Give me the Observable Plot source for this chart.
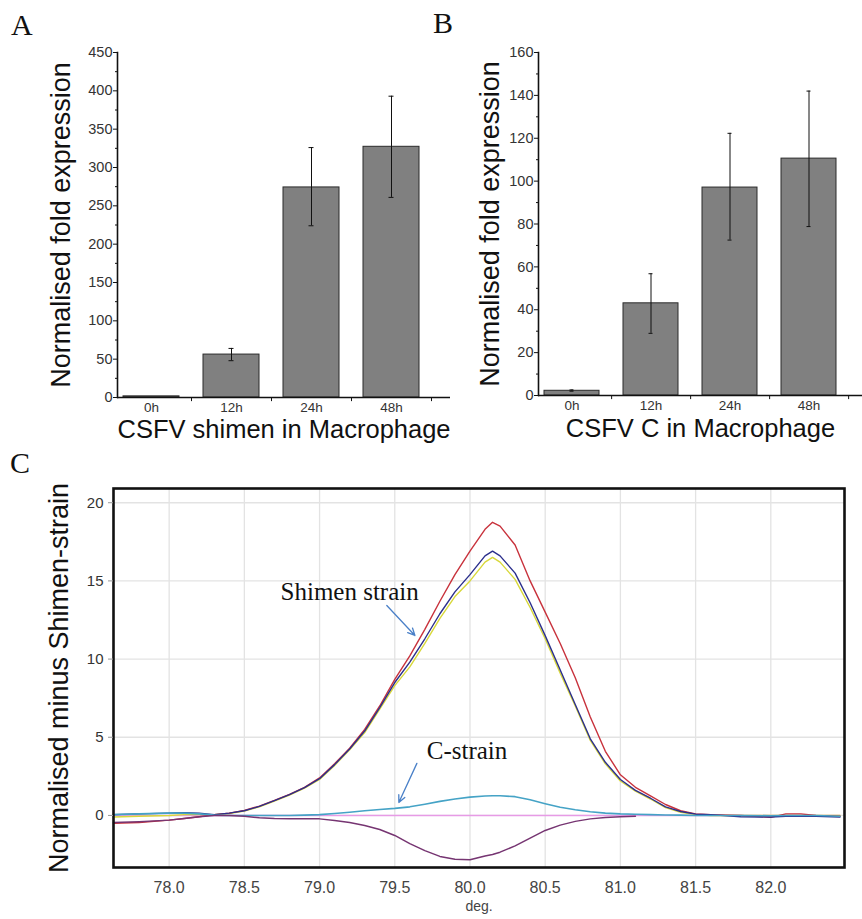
<!DOCTYPE html>
<html>
<head>
<meta charset="utf-8">
<script src="https://cdn.jsdelivr.net/npm/d3@7"></script>
<script src="https://cdn.jsdelivr.net/npm/@observablehq/plot@0.6"></script>
<style>
  html, body { margin: 0; padding: 0; background: #fff; }
  body { width: 862px; height: 919px; position: relative; overflow: hidden; font-family: "Liberation Sans", Arial, sans-serif; }
  .panel { position: absolute; }
  .panel svg { overflow: visible; }
  .letter { position: absolute; font-family: "Liberation Serif", "Times New Roman", serif; font-size: 30px; line-height: 1; color: #111; }
</style>
</head>
<body>
<div class="letter" style="left:11px;top:10px">A</div>
<div class="letter" style="left:433px;top:8px">B</div>
<div class="letter" style="left:10px;top:448px">C</div>
<div id="pa" class="panel" style="left:0px;top:0px;width:450px"></div>
<div id="pb" class="panel" style="left:450px;top:0px;width:412px"></div>
<div id="pc" class="panel" style="left:0px;top:470px;width:862px"></div>
<script>
// ---------- Panel A data ----------
const timesA = ["0h", "12h", "24h", "48h"];
const meanA = [1.5, 56, 274, 327];
const lowA = [null, 48, 224, 261];
const highA = [null, 64, 326, 393];
const yTicksA = [0, 50, 100, 150, 200, 250, 300, 350, 400, 450];
const yMinorA = [25, 75, 125, 175, 225, 275, 325, 375, 425];
const xLabelA = "CSFV shimen in Macrophage";

// ---------- Panel B data ----------
const timesB = ["0h", "12h", "24h", "48h"];
const meanB = [2.2, 43, 97, 110.5];
const lowB = [2.0, 29, 72.5, 78.8];
const highB = [2.6, 56.8, 122.3, 142];
const yTicksB = [0, 20, 40, 60, 80, 100, 120, 140, 160];
const yMinorB = [10, 30, 50, 70, 90, 110, 130, 150];
const xLabelB = "CSFV C in Macrophage";

const yLabelAB = "Normalised fold expression";

// ---------- Panel C data ----------
const degC = [77.63, 77.8, 78.0, 78.1, 78.2, 78.3, 78.4, 78.5, 78.6, 78.7, 78.8, 78.9,
  79.0, 79.1, 79.2, 79.3, 79.4, 79.5, 79.6, 79.7, 79.8, 79.9, 80.0, 80.1, 80.15, 80.2,
  80.3, 80.4, 80.5, 80.6, 80.7, 80.8, 80.9, 81.0, 81.1, 81.2, 81.3, 81.4, 81.5, 81.6,
  81.8, 82.0, 82.1, 82.2, 82.3, 82.46];
const shimenRed = [-0.5, -0.45, -0.3, -0.2, -0.08, 0.05, 0.15, 0.32, 0.6, 0.96, 1.35, 1.8,
  2.4, 3.3, 4.3, 5.5, 7.0, 8.7, 10.2, 11.9, 13.7, 15.4, 16.9, 18.3, 18.75, 18.5,
  17.3, 15.0, 13.0, 11.0, 8.8, 6.3, 4.1, 2.6, 1.8, 1.25, 0.7, 0.3, 0.1, 0.05,
  0.0, -0.12, 0.1, 0.1, 0.0, -0.05];
const shimenNavy = [0.05, 0.1, 0.15, 0.18, 0.15, 0.05, 0.15, 0.3, 0.58, 0.95, 1.33, 1.78,
  2.35, 3.25, 4.25, 5.4, 6.9, 8.5, 9.8, 11.3, 12.9, 14.3, 15.4, 16.6, 16.9, 16.6,
  15.5, 13.6, 11.5, 9.3, 7.1, 4.9, 3.4, 2.3, 1.6, 1.1, 0.55, 0.25, 0.08, 0.05,
  -0.08, -0.1, -0.05, -0.05, -0.05, -0.1];
const shimenYellow = [-0.1, -0.05, 0.0, 0.05, 0.05, 0.05, 0.12, 0.28, 0.55, 0.92, 1.3, 1.75,
  2.3, 3.2, 4.2, 5.3, 6.8, 8.3, 9.5, 11.0, 12.6, 14.0, 15.0, 16.2, 16.5, 16.2,
  15.1, 13.3, 11.3, 9.1, 7.0, 4.8, 3.3, 2.2, 1.55, 1.05, 0.5, 0.2, 0.05, 0.0,
  0.0, 0.0, 0.0, 0.0, 0.0, 0.0];
const cStrainCyan = [0.05, 0.1, 0.15, 0.15, 0.1, 0.02, 0.0, 0.0, 0.0, 0.0, 0.0, 0.02,
  0.05, 0.12, 0.2, 0.3, 0.38, 0.45, 0.55, 0.72, 0.9, 1.05, 1.17, 1.24, 1.26, 1.26,
  1.2, 1.0, 0.75, 0.52, 0.36, 0.24, 0.15, 0.1, 0.08, 0.05, 0.03, 0.02, 0.0, 0.0,
  0.0, -0.02, 0.0, 0.0, 0.0, -0.05];
const cStrainPurple = [-0.45, -0.4, -0.3, -0.2, -0.08, 0.0, 0.0, -0.05, -0.15, -0.2, -0.21, -0.21,
  -0.22, -0.32, -0.45, -0.65, -0.9, -1.28, -1.8, -2.25, -2.62, -2.8, -2.84, -2.6, -2.5, -2.35,
  -1.95, -1.45, -0.96, -0.62, -0.38, -0.22, -0.13, -0.08, -0.05, null, null, null, null, null,
  null, null, null, null, null, null];
const referencePink = degC.map(() => 0); // the Shimen-strain reference itself (flat)
const xTicksC = [78.0, 78.5, 79.0, 79.5, 80.0, 80.5, 81.0, 81.5, 82.0];
const yTicksC = [0, 5, 10, 15, 20];
const yLabelC = "Normalised minus Shimen-strain";
const xLabelC = "deg.";
const notesC = [
  {text: "Shimen strain", x: 79.20, y: 14.26},
  {text: "C-strain", x: 79.98, y: 4.14}
];
const arrowsC = [
  {x1: 79.447, y1: 13.43, x2: 79.634, y2: 11.51},
  {x1: 79.647, y1: 3.33, x2: 79.527, y2: 0.83}
];

const baseStyle = {fontFamily: "'Liberation Sans', Arial, sans-serif", background: "transparent", overflow: "visible"};

function barPanel(o) {
  const rows = o.times.map((t, i) => ({t, v: o.mean[i], lo: o.low[i], hi: o.high[i]}));
  const err = rows.filter(d => d.lo != null);
  const half = (o.xRange[1] - o.xRange[0]) / o.times.length / 2;
  return Plot.plot({
    width: o.width, height: 460,
    marginTop: 52, marginBottom: o.marginBottom, marginLeft: o.marginLeft, marginRight: 0,
    style: baseStyle,
    x: {domain: o.times, range: o.xRange, paddingInner: 0.3, paddingOuter: 0.15, axis: null, label: null},
    y: {domain: [0, o.yMax], axis: null, label: null},
    marks: [
      Plot.barY(rows, {x: "t", y: "v", fill: "#808080", stroke: "#2b2b2b", strokeWidth: 1}),
      Plot.ruleX(err, {x: "t", y1: "lo", y2: "hi", stroke: "#111", strokeWidth: 1}),
      Plot.tickY(err, {x: "t", y: "lo", insetLeft: 25.5, insetRight: 25.5, stroke: "#111", strokeWidth: 1}),
      Plot.tickY(err, {x: "t", y: "hi", insetLeft: 25.5, insetRight: 25.5, stroke: "#111", strokeWidth: 1}),
      Plot.ruleY([0], {stroke: "#111", strokeWidth: 1.6}),
      Plot.frame({anchor: "left", stroke: "#111", strokeWidth: 1.6}),
      Plot.ruleX(o.times, {x: d => d, dx: half, y1: 0, y2: -o.yMax * 0.012, stroke: "#111", strokeWidth: 1}),
      Plot.axisY({ticks: o.yTicks, tickSize: 4, tickPadding: 1, fontSize: 14.5, fill: "#333", stroke: "#111", label: null}),
      Plot.axisY({ticks: o.yMinor, tickSize: 2, tickFormat: () => "", stroke: "#111", label: null}),
      Plot.axisX({tickSize: 0, tickPadding: 5, fontSize: 13.5, fill: "#333", label: null}),
      Plot.text([yLabelAB], {text: d => d, frameAnchor: "left", textAnchor: "middle", dx: o.yLabelDx, rotate: -90, fontSize: 27, fill: "#111"}),
      Plot.text([o.xLabel], {text: d => d, frameAnchor: "bottom", textAnchor: "middle", dy: o.xLabelDy, fontSize: 25.5, fill: "#111"})
    ]
  });
}

document.getElementById("pa").append(barPanel({
  times: timesA, mean: meanA, low: lowA, high: highA, yMax: 450, yTicks: yTicksA, yMinor: yMinorA,
  width: 450, marginLeft: 117, marginBottom: 63, xRange: [111, 431], xLabel: xLabelA,
  yLabelDx: -56, xLabelDy: 40
}));
document.getElementById("pb").append(barPanel({
  times: timesB, mean: meanB, low: lowB, high: highB, yMax: 160, yTicks: yTicksB, yMinor: yMinorB,
  width: 412, marginLeft: 88, marginBottom: 65, xRange: [82, 399], xLabel: xLabelB,
  yLabelDx: -48, xLabelDy: 41
}));

// ---------- Panel C ----------
const seriesC = [
  {values: referencePink, color: "#e79be6", width: 1.6},
  {values: shimenYellow, color: "#d8d83a", width: 1.4},
  {values: shimenRed, color: "#c8323c", width: 1.4},
  {values: shimenNavy, color: "#2b2f8c", width: 1.4},
  {values: cStrainCyan, color: "#45a3c6", width: 1.6},
  {values: cStrainPurple, color: "#763572", width: 1.5}
];

const chartC = Plot.plot({
  width: 862, height: 449,
  marginLeft: 113, marginRight: 18, marginTop: 18, marginBottom: 52,
  style: baseStyle,
  x: {domain: [77.63, 82.49], axis: null, label: null},
  y: {domain: [-3.33, 20.91], axis: null, label: null},
  marks: [
    Plot.gridX({ticks: xTicksC, stroke: "#e3e3e3", strokeOpacity: 1, strokeWidth: 1.3}),
    Plot.gridY({ticks: yTicksC, stroke: "#e3e3e3", strokeOpacity: 1, strokeWidth: 1.3}),
    ...seriesC.map(s => Plot.line(degC.map((x, i) => ({x, y: s.values[i]})),
      {x: "x", y: "y", stroke: s.color, strokeWidth: s.width})),
    Plot.frame({stroke: "#111", strokeWidth: 2.6}),
    Plot.axisY({ticks: yTicksC, tickSize: 5, tickPadding: 5, fontSize: 15, fill: "#333", stroke: "#999", label: null}),
    Plot.axisX({ticks: xTicksC, tickFormat: d3.format(".1f"), tickSize: 0, tickPadding: 14, fontSize: 16, fill: "#444", label: null}),
    Plot.text([xLabelC], {text: d => d, frameAnchor: "bottom", textAnchor: "middle", dy: 43, fontSize: 14, fill: "#444"}),
    Plot.text([yLabelC], {text: d => d, frameAnchor: "left", textAnchor: "middle", dx: -54, rotate: -90, fontSize: 27, fill: "#111"}),
    Plot.text(notesC, {x: "x", y: "y", text: "text", fontFamily: "'Liberation Serif', 'Times New Roman', serif", fontSize: 25, fill: "#111"}),
    Plot.arrow(arrowsC, {x1: "x1", y1: "y1", x2: "x2", y2: "y2", stroke: "#4a80c8", strokeWidth: 1.3, headLength: 9, headAngle: 50})
  ]
});
document.getElementById("pc").append(chartC);
</script>
</body>
</html>
